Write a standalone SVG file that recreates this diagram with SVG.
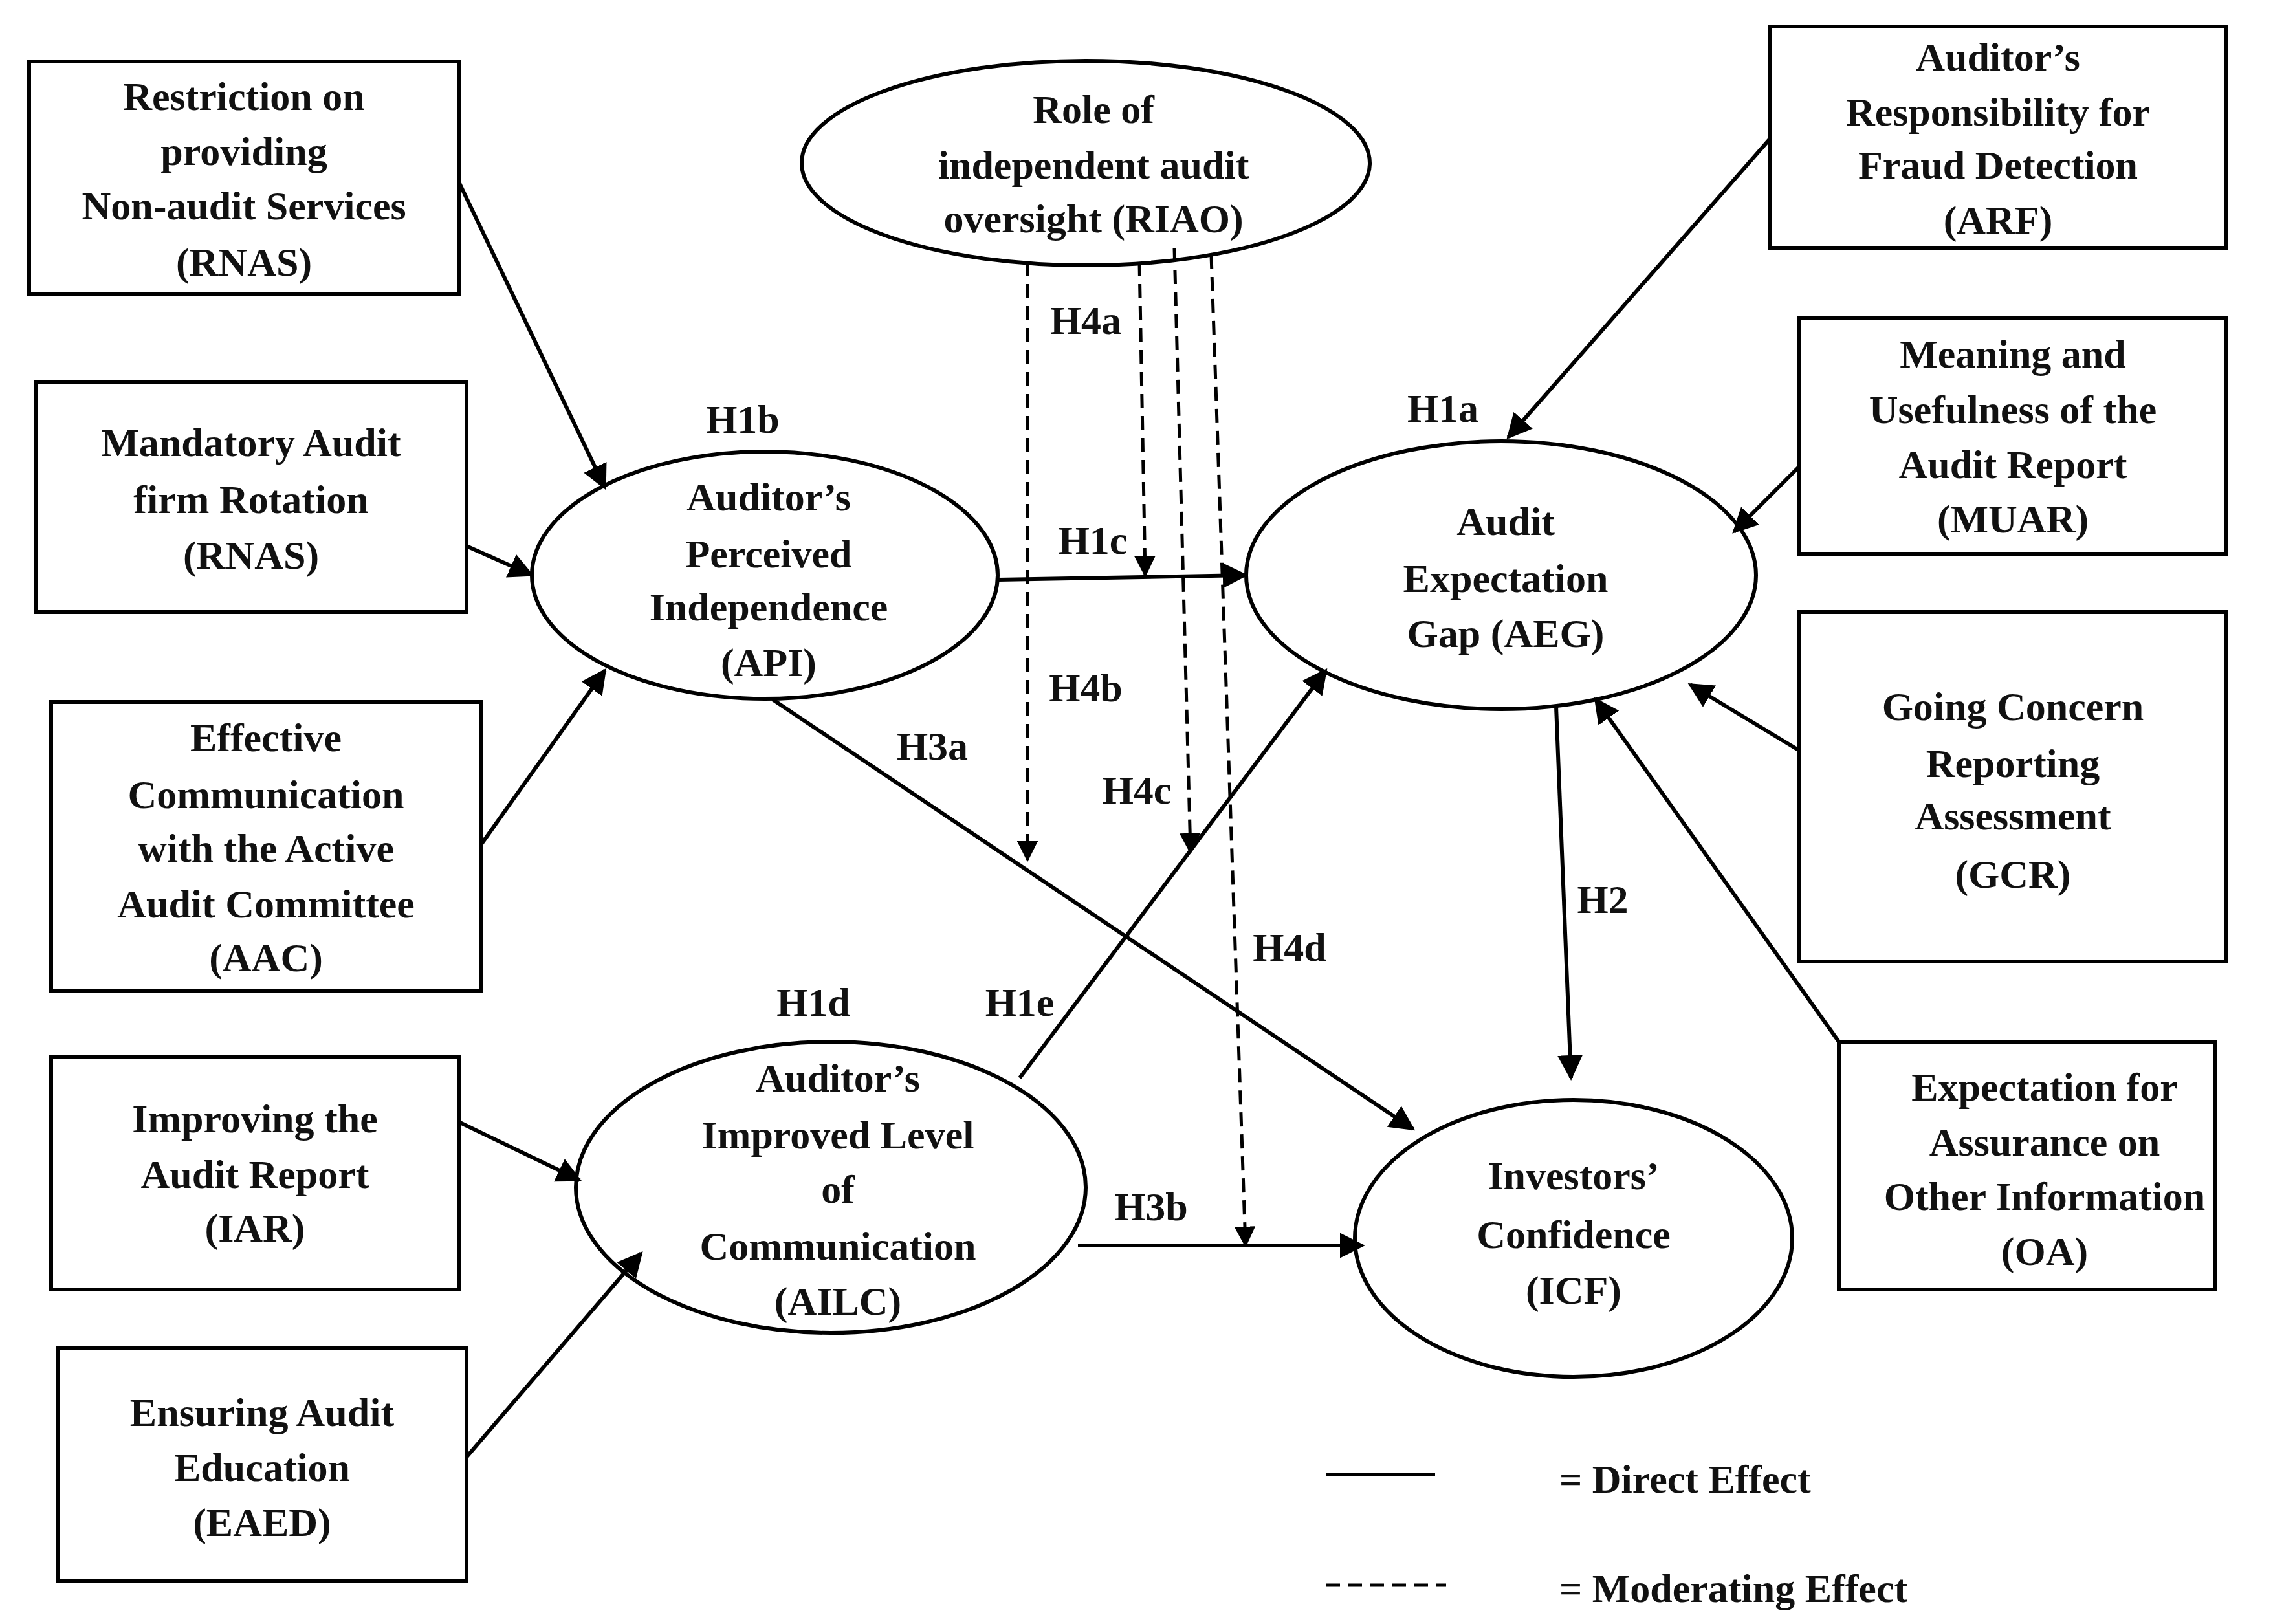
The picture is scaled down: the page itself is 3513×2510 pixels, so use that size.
<svg xmlns="http://www.w3.org/2000/svg" width="3513" height="2510" viewBox="0 0 3513 2510">
<style>
.b{fill:#fff;stroke:#000;stroke-width:6}
.t{font-family:"Liberation Serif",serif;font-weight:bold;font-size:62px;text-anchor:middle;dominant-baseline:central;fill:#111}
.l{text-anchor:start}
.s{stroke:#000;stroke-width:6;fill:none;marker-end:url(#a)}
.d{stroke:#000;stroke-width:5;fill:none;stroke-dasharray:22 12;marker-end:url(#a)}
</style>
<defs><marker id="a" viewBox="0 0 10 10" refX="9" refY="5" markerWidth="6.5" markerHeight="6.5" orient="auto" markerUnits="strokeWidth"><path d="M0,0L10,5L0,10z" fill="#000"/></marker></defs>
<rect width="3513" height="2510" fill="#fff"/>
<g id="RNAS1"><rect class="b" x="45" y="95" width="664" height="360"/><text class="t"><tspan x="377" y="149">Restriction on</tspan><tspan x="377" y="234">providing</tspan><tspan x="377" y="318">Non-audit  Services</tspan><tspan x="377" y="405">(RNAS)</tspan></text></g>
<g id="RNAS2"><rect class="b" x="56" y="590" width="665" height="356"/><text class="t"><tspan x="388" y="684">Mandatory  Audit</tspan><tspan x="388" y="772">firm  Rotation</tspan><tspan x="388" y="858">(RNAS)</tspan></text></g>
<g id="AAC"><rect class="b" x="79" y="1085" width="664" height="446"/><text class="t"><tspan x="411" y="1140">Effective</tspan><tspan x="411" y="1228">Communication</tspan><tspan x="411" y="1311">with the Active</tspan><tspan x="411" y="1397">Audit Committee</tspan><tspan x="411" y="1480">(AAC)</tspan></text></g>
<g id="IAR"><rect class="b" x="79" y="1633" width="630" height="360"/><text class="t"><tspan x="394" y="1729">Improving  the</tspan><tspan x="394" y="1815">Audit Report</tspan><tspan x="394" y="1898">(IAR)</tspan></text></g>
<g id="EAED"><rect class="b" x="90" y="2083" width="631" height="360"/><text class="t"><tspan x="405" y="2183">Ensuring Audit</tspan><tspan x="405" y="2268">Education</tspan><tspan x="405" y="2353">(EAED)</tspan></text></g>
<g id="ARF"><rect class="b" x="2736" y="41" width="705" height="342"/><text class="t"><tspan x="3088" y="88">Auditor’s</tspan><tspan x="3088" y="173">Responsibility for</tspan><tspan x="3088" y="255">Fraud Detection</tspan><tspan x="3088" y="340">(ARF)</tspan></text></g>
<g id="MUAR"><rect class="b" x="2781" y="491" width="660" height="365"/><text class="t"><tspan x="3111" y="547">Meaning and</tspan><tspan x="3111" y="633">Usefulness of the</tspan><tspan x="3111" y="718">Audit Report</tspan><tspan x="3111" y="802">(MUAR)</tspan></text></g>
<g id="GCR"><rect class="b" x="2781" y="946" width="660" height="540"/><text class="t"><tspan x="3111" y="1092">Going Concern</tspan><tspan x="3111" y="1180">Reporting</tspan><tspan x="3111" y="1261">Assessment</tspan><tspan x="3111" y="1351">(GCR)</tspan></text></g>
<g id="OA"><rect class="b" x="2842" y="1610" width="581" height="383"/><text class="t"><tspan x="3160" y="1680">Expectation  for</tspan><tspan x="3160" y="1765">Assurance on</tspan><tspan x="3160" y="1849">Other Information</tspan><tspan x="3160" y="1934">(OA)</tspan></text></g>
<g id="RIAO"><ellipse class="b" cx="1678" cy="252" rx="439" ry="158"/><text class="t"><tspan x="1690" y="169">Role of</tspan><tspan x="1690" y="255">independent  audit</tspan><tspan x="1690" y="338">oversight (RIAO)</tspan></text></g>
<g id="API"><ellipse class="b" cx="1182" cy="889" rx="360" ry="191"/><text class="t"><tspan x="1188" y="768">Auditor’s</tspan><tspan x="1188" y="856">Perceived</tspan><tspan x="1188" y="938">Independence</tspan><tspan x="1188" y="1024">(API)</tspan></text></g>
<g id="AEG"><ellipse class="b" cx="2320" cy="889" rx="394" ry="207"/><text class="t"><tspan x="2327" y="806">Audit</tspan><tspan x="2327" y="894">Expectation</tspan><tspan x="2327" y="979">Gap  (AEG)</tspan></text></g>
<g id="AILC"><ellipse class="b" cx="1284" cy="1835" rx="394" ry="225"/><text class="t"><tspan x="1295" y="1666">Auditor’s</tspan><tspan x="1295" y="1754">Improved  Level</tspan><tspan x="1295" y="1838">of</tspan><tspan x="1295" y="1926">Communication</tspan><tspan x="1295" y="2011">(AILC)</tspan></text></g>
<g id="ICF"><ellipse class="b" cx="2432" cy="1914" rx="338" ry="214"/><text class="t"><tspan x="2432" y="1817">Investors’</tspan><tspan x="2432" y="1908">Confidence</tspan><tspan x="2432" y="1994">(ICF)</tspan></text></g>
<g id="connectors">
<path class="s" d="M709,281L935,754"/>
<path class="s" d="M721,844L822,889"/>
<path class="s" d="M743,1306L935,1036"/>
<path class="s" d="M709,1734L896,1824"/>
<path class="s" d="M721,2252L991,1937"/>
<path class="s" d="M2736,214L2331,676"/>
<path class="s" d="M2781,721L2680,822"/>
<path class="s" d="M2781,1160L2612,1058"/>
<path class="s" d="M2842,1610L2466,1081"/>
<path class="s" d="M1543,896L1925,889"/>
<path class="s" d="M1194,1081L2184,1745"/>
<path class="s" d="M1576,1666L2049,1036"/>
<path class="s" d="M2405,1092L2428,1666"/>
<path class="s" d="M1666,1925L2106,1925"/>
<path class="d" d="M1588,405L1588,1329"/>
<path class="d" d="M1761,405L1770,889"/>
<path class="d" d="M1815,383L1840,1317"/>
<path class="d" d="M1872,394L1925,1925"/>
<line x1="2049" y1="2279" x2="2218" y2="2279" stroke="#000" stroke-width="6"/>
<line x1="2049" y1="2450" x2="2235" y2="2450" stroke="#000" stroke-width="5" stroke-dasharray="22 12"/>
</g>
<g class="t">
<text x="1148" y="648">H1b</text><text x="2230" y="631">H1a</text><text x="1678" y="495">H4a</text>
<text x="1689" y="835">H1c</text><text x="1678" y="1063">H4b</text><text x="1441" y="1153">H3a</text>
<text x="1757" y="1221">H4c</text><text x="2477" y="1390">H2</text><text x="1993" y="1464">H4d</text>
<text x="1257" y="1549">H1d</text><text x="1576" y="1549">H1e</text><text x="1779" y="1865">H3b</text>
<text class="l" x="2410" y="2286">= Direct Effect</text>
<text class="l" x="2410" y="2455">= Moderating Effect</text>
</g>
</svg>
